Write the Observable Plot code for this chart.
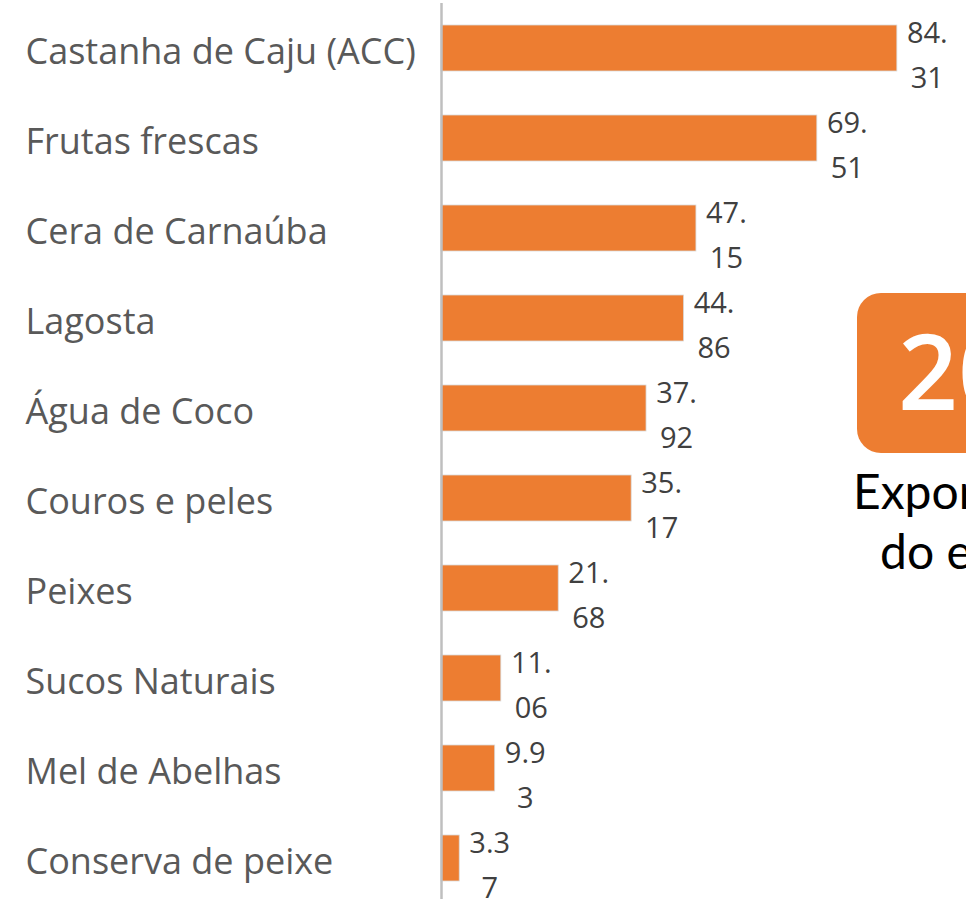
<!DOCTYPE html>
<html>
<head>
<meta charset="utf-8">
<script src="https://cdn.jsdelivr.net/npm/d3@7"></script>
<script src="https://cdn.jsdelivr.net/npm/@observablehq/plot@0.6"></script>
<style>
  html, body { margin: 0; padding: 0; background: #fff; width: 966px; height: 899px; overflow: hidden; }
  #wrap { position: relative; width: 966px; height: 899px; }
  #chart { position: absolute; left: 0; top: 0; }
  .badge { position: absolute; left: 857px; top: 293px; width: 220px; height: 160px; background: #ED7D31; border-radius: 24px; }
  .badge span { position: absolute; left: 41px; top: 24px; font-family: "Open Sans"; font-weight: 600; font-size: 105px; color: #fff; line-height: 1; }
  .side { position: absolute; font-family: "Lato"; font-size: 48px; color: #000; line-height: 1; white-space: nowrap; }
</style>
</head>
<body>
<div id="wrap">
  <div id="chart"></div>
  <div class="badge"><span>20</span></div>
  <div class="side" style="left:853px; top:467px;">Expor</div>
  <div class="side" style="left:880px; top:527px;">do e</div>
</div>
<script>
const categories = [
  "Castanha de Caju (ACC)",
  "Frutas frescas",
  "Cera de Carnaúba",
  "Lagosta",
  "Água de Coco",
  "Couros e peles",
  "Peixes",
  "Sucos Naturais",
  "Mel de Abelhas",
  "Conserva de peixe"
];
const values = [84.31, 69.51, 47.15, 44.86, 37.92, 35.17, 21.68, 11.06, 9.93, 3.37];

const data = categories.map((c, i) => {
  const s = values[i].toFixed(2);
  return { category: c, value: values[i], label: s.slice(0, 3) + "\n" + s.slice(3) };
});

const chart = Plot.plot({
  width: 966,
  height: 899,
  marginLeft: 441,
  marginRight: 0,
  marginTop: 3,
  marginBottom: 0,
  style: { background: "transparent" },
  x: { domain: [0, 97.1], axis: null },
  y: { domain: categories, paddingInner: 0.485, paddingOuter: 0.2, align: 0.55, axis: null },
  marks: [
    Plot.barX(data, { y: "category", x: "value", fill: "#ED7D31", stroke: "#D9D9D9", strokeWidth: 0.8 }),
    Plot.ruleX([0], { stroke: "#BFBFBF", strokeWidth: 2.5 }),
    Plot.text(data, {
      y: "category", x: "value", text: "label",
      dx: 30, dy: 3, lineHeight: 1.55,
      fontSize: 29, fill: "#404040", textAnchor: "middle",
      fontFamily: "Open Sans"
    }),
    Plot.text(categories, {
      y: d => d, text: d => d, frameAnchor: "left", textAnchor: "start",
      dx: -416, dy: 3.5, fontSize: 36, fill: "#595959", fontFamily: "Open Sans"
    })
  ]
});
document.getElementById("chart").appendChild(chart);
</script>
</body>
</html>
